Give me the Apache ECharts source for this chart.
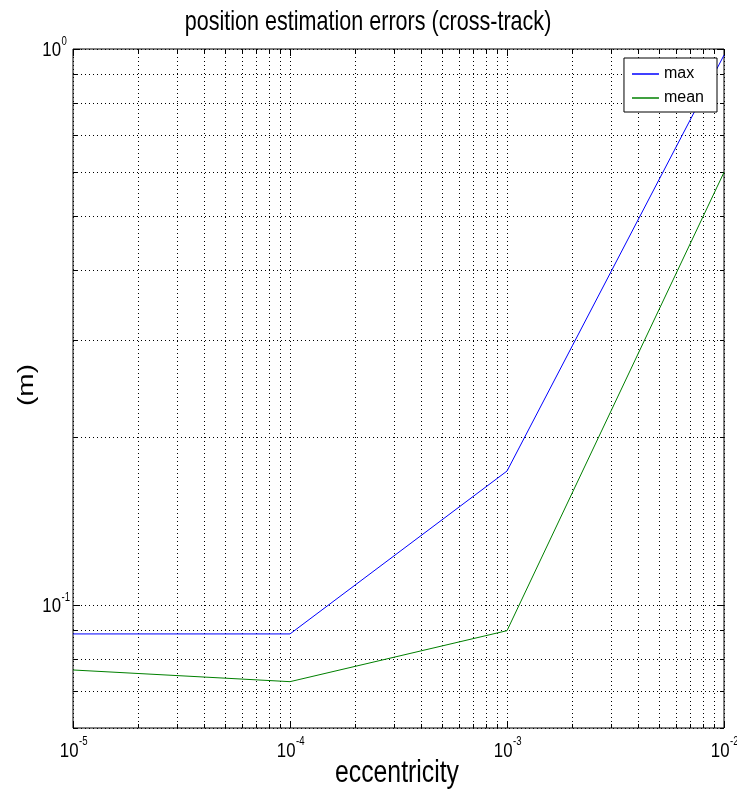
<!DOCTYPE html>
<html>
<head>
<meta charset="utf-8">
<script src="https://cdn.jsdelivr.net/npm/echarts@6/dist/echarts.min.js"></script>
<style>
  html, body { margin: 0; padding: 0; background: #fff; }
  #chart { width: 737px; height: 791px; }
</style>
</head>
<body>
<div id="chart"></div>
<script>
// Cross-track position error against orbit eccentricity (log-log)
const eccentricity = [1e-5, 1e-4, 1e-3, 1e-2];
const maxError = [0.0886, 0.0886, 0.174, 0.975];
const meanError = [0.0763, 0.0727, 0.0898, 0.600];

// Grid / tick positions: decades plus the 2..9 subdivisions
const xTickValues = [
  1e-5, 2e-5, 3e-5, 4e-5, 5e-5, 6e-5, 7e-5, 8e-5, 9e-5,
  1e-4, 2e-4, 3e-4, 4e-4, 5e-4, 6e-4, 7e-4, 8e-4, 9e-4,
  1e-3, 2e-3, 3e-3, 4e-3, 5e-3, 6e-3, 7e-3, 8e-3, 9e-3,
  1e-2
];
const yTickValues = [0.06, 0.07, 0.08, 0.09, 0.1, 0.2, 0.3, 0.4, 0.5, 0.6, 0.7, 0.8, 0.9, 1];

const titleText = 'position estimation errors (cross-track)';
const xAxisTitle = 'eccentricity';
const yAxisTitle = '(m)';

const SANS = '"Liberation Sans", Arial, Helvetica, sans-serif';
const SQUEEZE = 0.8;   // condensed look of the lettering

function isDecade(v) {
  const l = Math.log10(v);
  return Math.abs(l - Math.round(l)) < 1e-6;
}

const dotted = { stroke: '#000', lineWidth: 1, lineDash: [1, 3] };
const solid = { stroke: '#000', lineWidth: 1 };

function baseText(text, x, y, align) {
  return {
    type: 'text', x: x, y: y, scaleX: SQUEEZE,
    style: { text: text, fontSize: 21, fontFamily: SANS, fill: '#000', align: align, verticalAlign: 'middle' }
  };
}
function expText(text, x, y) {
  return {
    type: 'text', x: x, y: y, scaleX: SQUEEZE,
    style: { text: text, fontSize: 12, fontFamily: SANS, fill: '#000', align: 'left', verticalAlign: 'middle' }
  };
}

// Dotted grid line, inward ticks on both opposite edges, and 10^n labels on decades
function gridRenderer(isX) {
  return function (params, api) {
    const cs = params.coordSys;
    const v = api.value(isX ? 0 : 1);
    const decade = isDecade(v);
    const len = decade ? 7 : 4;
    const children = [];
    if (isX) {
      const px = Math.round(api.coord([v, 1])[0]) + 0.5;
      const y0 = cs.y, y1 = cs.y + cs.height;
      children.push({ type: 'line', shape: { x1: px, y1: y0, x2: px, y2: y1 }, style: dotted });
      children.push({ type: 'line', shape: { x1: px, y1: y1, x2: px, y2: y1 - len }, style: solid });
      children.push({ type: 'line', shape: { x1: px, y1: y0, x2: px, y2: y0 + len }, style: solid });
      if (decade) {
        const e = String(Math.round(Math.log10(v)));
        children.push(baseText('10', px + 5, y1 + 23, 'right'));
        children.push(expText(e, px + 5.5, y1 + 14));
      }
    } else {
      const py = Math.round(api.coord([1e-3, v])[1]) + 0.5;
      const x0 = cs.x, x1 = cs.x + cs.width;
      children.push({ type: 'line', shape: { x1: x0, y1: py, x2: x1, y2: py }, style: dotted });
      children.push({ type: 'line', shape: { x1: x0, y1: py, x2: x0 + len, y2: py }, style: solid });
      children.push({ type: 'line', shape: { x1: x1, y1: py, x2: x1 - len, y2: py }, style: solid });
      if (decade) {
        const e = String(Math.round(Math.log10(v)));
        children.push(baseText('10', x0 - 12, py + 1, 'right'));
        children.push(expText(e, x0 - 11.5, py - 8));
      }
    }
    return { type: 'group', children: children };
  };
}

const chart = echarts.init(document.getElementById('chart'), null, { renderer: 'canvas' });

chart.setOption({
  animation: false,
  backgroundColor: '#fff',
  graphic: [
    {
      type: 'text', x: 368, y: 22, scaleX: 0.77,
      style: { text: titleText, fontSize: 28, fontFamily: SANS, fill: '#000', align: 'center', verticalAlign: 'middle' }
    },
    {
      type: 'text', x: 397, y: 773, scaleX: SQUEEZE,
      style: { text: xAxisTitle, fontSize: 31, fontFamily: SANS, fill: '#000', align: 'center', verticalAlign: 'middle' }
    },
    {
      type: 'text', x: 27, y: 385, rotation: Math.PI / 2, scaleY: SQUEEZE,
      style: { text: yAxisTitle, fontSize: 28, fontFamily: SANS, fill: '#000', align: 'center', verticalAlign: 'middle' }
    }
  ],
  legend: {
    data: ['max', 'mean'],
    orient: 'vertical',
    right: 20,
    top: 58,
    backgroundColor: '#fff',
    borderColor: '#000',
    borderWidth: 1,
    borderRadius: 0,
    padding: [8, 13, 6, 8],
    itemGap: 8,
    itemWidth: 27,
    itemHeight: 1.5,
    icon: 'rect',
    textStyle: { fontFamily: SANS, fontSize: 16, color: '#000' }
  },
  grid: {
    left: 73, right: 13, top: 49, bottom: 63,
    containLabel: false,
    outerBoundsMode: 'none',
    show: true, borderColor: '#000', borderWidth: 1, backgroundColor: 'transparent'
  },
  xAxis: {
    type: 'log', logBase: 10, min: 1e-5, max: 1e-2,
    axisLine: { show: false },
    axisTick: { show: false },
    splitLine: { show: false },
    axisLabel: { show: false }
  },
  yAxis: {
    type: 'log', logBase: 10, min: 0.06, max: 1,
    axisLine: { show: false },
    axisTick: { show: false },
    splitLine: { show: false },
    axisLabel: { show: false }
  },
  series: [
    {
      type: 'custom', silent: true, z: 1, clip: false,
      renderItem: gridRenderer(true),
      data: xTickValues.map(function (v) { return [v, 1]; })
    },
    {
      type: 'custom', silent: true, z: 1, clip: false,
      renderItem: gridRenderer(false),
      data: yTickValues.map(function (v) { return [1e-3, v]; })
    },
    {
      name: 'max', type: 'line', z: 3,
      data: eccentricity.map(function (x, i) { return [x, maxError[i]]; }),
      symbol: 'none', showSymbol: false,
      color: '#0000ff',
      lineStyle: { color: '#0000ff', width: 1 }
    },
    {
      name: 'mean', type: 'line', z: 3,
      data: eccentricity.map(function (x, i) { return [x, meanError[i]]; }),
      symbol: 'none', showSymbol: false,
      color: '#008000',
      lineStyle: { color: '#008000', width: 1 }
    }
  ]
});
</script>
</body>
</html>
